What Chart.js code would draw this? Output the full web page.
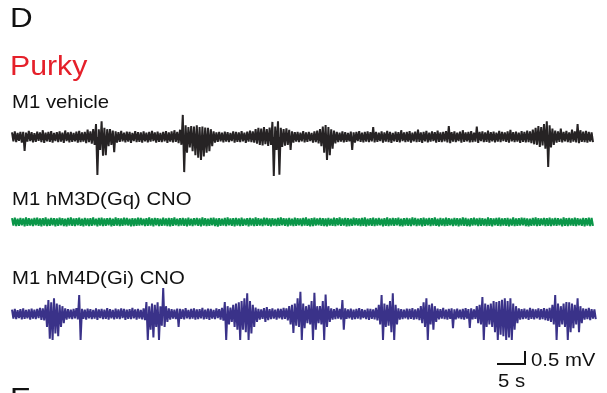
<!DOCTYPE html>
<html>
<head>
<meta charset="utf-8">
<script src="https://cdn.jsdelivr.net/npm/chart.js@4.4.1/dist/chart.umd.min.js"></script>
<style>
  html, body { margin: 0; padding: 0; background: #fff; }
  body { width: 607px; height: 393px; overflow: hidden; position: relative; }
  #trace { position: absolute; left: 0; top: 0; }
  .lbl { position: absolute; font-family: "Liberation Sans", Arial, sans-serif; line-height: 1; white-space: nowrap; color: #111; transform-origin: 0 0; transform: scaleX(1.07); }
  .big { transform: scaleX(1.12); }
</style>
</head>
<body>
<canvas id="trace" width="607" height="393"></canvas>
<div class="lbl big" style="left:10px; top:4px; font-size:28px;">D</div>
<div class="lbl big" style="left:10px; top:53px; font-size:27px; color:#e5202a;">Purky</div>
<div class="lbl" style="left:12px; top:92px; font-size:19px;">M1 vehicle</div>
<div class="lbl" style="left:12px; top:189px; font-size:19px;">M1 hM3D(Gq) CNO</div>
<div class="lbl" style="left:12px; top:268px; font-size:19px;">M1 hM4D(Gi) CNO</div>
<div class="lbl" style="left:531px; top:350px; font-size:19px;">0.5 mV</div>
<div class="lbl" style="left:498px; top:371px; font-size:19px;">5 s</div>
<div class="lbl big" style="left:10px; top:384px; font-size:28px;">E</div>
<script>
// envelope of each recording, one column per 0.5 s, values in mV (upper / lower edge)
const binSec = 0.5;

const vehicleHi = [
  .18,.22,.16,.2,.2,.17,.24,.19,.15,.21,.18,.26,.17,.2,.23,.16,
  .19,.22,.17,.25,.18,.2,.16,.21,.24,.18,.2,.28,.22,.3,.5,.3,
  .6,.35,.3,.3,.25,.22,.19,.24,.17,.21,.2,.16,.23,.19,.18,.22,
  .17,.2,.24,.18,.21,.16,.2,.23,.18,.22,.26,.2,.28,.85,.45,.38,
  .42,.4,.45,.38,.4,.36,.35,.3,.22,.18,.2,.17,.21,.19,.16,.22,
  .2,.18,.23,.17,.21,.25,.22,.3,.35,.32,.38,.3,.36,.58,.4,.6,
  .35,.3,.33,.28,.22,.19,.2,.17,.23,.18,.2,.16,.22,.25,.3,.4,
  .46,.38,.3,.25,.2,.17,.22,.19,.16,.21,.18,.2,.23,.17,.2,.22,
  .19,.38,.2,.17,.22,.18,.24,.2,.16,.21,.19,.26,.18,.2,.23,.17,
  .21,.28,.18,.2,.24,.17,.22,.19,.25,.18,.2,.23,.42,.19,.22,.17,
  .21,.26,.18,.2,.23,.17,.4,.2,.22,.18,.25,.19,.21,.17,.24,.2,
  .18,.22,.27,.19,.21,.17,.23,.2,.25,.22,.28,.35,.42,.38,.5,.6,
  .45,.32,.25,.22,.32,.2,.24,.18,.28,.22,.5,.26,.21,.24,.2,.18
];
const vehicleLo = [
  -.17,-.2,-.15,-.22,-.54,-.18,-.16,-.21,-.19,-.15,-.2,-.23,-.17,-.19,-.22,-.16,
  -.2,-.18,-.23,-.16,-.21,-.19,-.17,-.22,-.2,-.18,-.24,-.2,-.26,-.3,-1.46,-.5,
  -.72,-.7,-.35,-.3,-.58,-.22,-.19,-.17,-.21,-.18,-.23,-.16,-.2,-.19,-.22,-.17,
  -.21,-.18,-.16,-.22,-.19,-.2,-.17,-.23,-.18,-.21,-.19,-.24,-.3,-1.35,-.6,-.4,
  -.55,-.7,-.8,-.88,-.75,-.6,-.55,-.35,-.22,-.19,-.17,-.21,-.18,-.2,-.16,-.22,
  -.19,-.2,-.17,-.23,-.18,-.2,-.22,-.26,-.3,-.32,-.28,-.34,-.3,-1.5,-.5,-1.45,
  -.38,-.33,-.3,-.5,-.22,-.18,-.2,-.17,-.21,-.19,-.16,-.22,-.2,-.25,-.35,-.6,
  -.88,-.7,-.45,-.25,-.2,-.18,-.21,-.19,-.17,-.5,-.22,-.16,-.19,-.21,-.18,-.2,
  -.17,-.21,-.19,-.16,-.22,-.18,-.2,-.23,-.17,-.19,-.21,-.16,-.2,-.18,-.22,-.17,
  -.2,-.19,-.23,-.17,-.21,-.18,-.16,-.22,-.19,-.2,-.17,-.21,-.24,-.18,-.2,-.16,
  -.22,-.19,-.17,-.21,-.2,-.18,-.23,-.16,-.2,-.19,-.22,-.17,-.21,-.18,-.2,-.16,
  -.19,-.22,-.17,-.2,-.18,-.23,-.19,-.21,-.2,-.24,-.28,-.3,-.38,-.32,-.45,-1.15,
  -.4,-.3,-.22,-.19,-.21,-.17,-.2,-.22,-.18,-.21,-.24,-.19,-.2,-.22,-.18,-.2
];

const gqHi = [
  .15,.17,.13,.16,.14,.18,.15,.13,.16,.17,.14,.15,.18,.13,.16,.15,
  .14,.17,.15,.13,.16,.18,.14,.15,.17,.13,.16,.14,.15,.18,.13,.16,
  .17,.14,.15,.16,.13,.18,.15,.14,.17,.16,.13,.15,.14,.17,.16,.13,
  .15,.18,.14,.16,.15,.13,.17,.14,.16,.15,.18,.13,.15,.16,.14,.17,
  .13,.15,.16,.14,.18,.15,.13,.16,.17,.14,.15,.13,.16,.18,.14,.15,
  .16,.14,.17,.13,.15,.16,.14,.18,.15,.13,.17,.16,.14,.15,.13,.16,
  .18,.15,.14,.16,.13,.17,.15,.14,.16,.18,.13,.15,.17,.14,.16,.15,
  .14,.16,.13,.17,.15,.18,.14,.16,.15,.13,.17,.15,.14,.16,.18,.13,
  .15,.17,.14,.16,.13,.15,.18,.14,.16,.15,.17,.13,.15,.16,.14,.18,
  .16,.13,.15,.17,.14,.16,.15,.18,.13,.16,.14,.17,.15,.13,.16,.15,
  .14,.18,.16,.13,.15,.17,.14,.16,.15,.13,.18,.15,.14,.16,.17,.14,
  .15,.16,.13,.18,.14,.15,.17,.16,.14,.13,.16,.18,.15,.14,.16,.15,
  .17,.14,.16,.15,.13,.18,.15,.16,.14,.17,.15,.13,.16,.15,.17,.16
];
const gqLo = [
  -.14,-.16,-.15,-.13,-.17,-.15,-.14,-.16,-.13,-.15,-.17,-.14,-.16,-.15,-.13,-.17,
  -.15,-.13,-.16,-.17,-.14,-.15,-.16,-.13,-.15,-.17,-.14,-.16,-.15,-.13,-.17,-.14,
  -.16,-.15,-.13,-.17,-.15,-.14,-.16,-.15,-.13,-.14,-.17,-.16,-.15,-.14,-.13,-.16,
  -.15,-.14,-.17,-.13,-.16,-.15,-.14,-.16,-.17,-.15,-.13,-.16,-.14,-.15,-.17,-.14,
  -.16,-.13,-.15,-.17,-.14,-.16,-.15,-.13,-.16,-.18,-.15,-.14,-.16,-.13,-.15,-.17,
  -.14,-.16,-.15,-.13,-.17,-.14,-.16,-.15,-.14,-.16,-.13,-.15,-.17,-.14,-.16,-.15,
  -.13,-.15,-.17,-.14,-.16,-.15,-.13,-.16,-.14,-.15,-.17,-.16,-.14,-.13,-.15,-.16,
  -.17,-.14,-.15,-.16,-.13,-.15,-.14,-.17,-.16,-.15,-.13,-.14,-.16,-.15,-.17,-.14,
  -.15,-.16,-.14,-.13,-.17,-.15,-.16,-.14,-.15,-.13,-.16,-.17,-.14,-.15,-.16,-.13,
  -.16,-.14,-.17,-.15,-.13,-.16,-.14,-.15,-.17,-.14,-.16,-.15,-.13,-.16,-.14,-.17,
  -.14,-.15,-.16,-.17,-.14,-.13,-.16,-.15,-.14,-.16,-.15,-.17,-.13,-.15,-.16,-.14,
  -.15,-.17,-.14,-.16,-.15,-.14,-.13,-.16,-.17,-.15,-.14,-.16,-.15,-.13,-.16,-.15,
  -.16,-.14,-.15,-.13,-.17,-.15,-.16,-.14,-.15,-.16,-.13,-.15,-.17,-.14,-.16,-.15
];

const giHi = [
  .17,.2,.15,.19,.22,.16,.18,.21,.17,.2,.24,.22,.35,.54,.45,.6,
  .4,.35,.3,.22,.19,.17,.2,.23,.73,.2,.17,.21,.19,.16,.22,.18,
  .2,.17,.23,.19,.16,.21,.18,.22,.2,.17,.19,.24,.18,.2,.16,.22,
  .46,.3,.4,.35,.45,.3,1.0,.3,.22,.19,.17,.21,.2,.18,.23,.16,
  .2,.22,.18,.19,.24,.17,.21,.2,.16,.22,.19,.24,.46,.3,.25,.35,
  .4,.45,.5,.6,.8,.5,.35,.25,.2,.18,.23,.27,.19,.22,.17,.21,
  .2,.24,.22,.3,.35,.4,.6,.85,.4,.3,.35,.5,.82,.3,.3,.5,
  .75,.3,.22,.19,.24,.2,.54,.22,.18,.21,.17,.2,.23,.19,.16,.21,
  .2,.18,.24,.35,.73,.4,.35,.5,.8,.35,.22,.19,.17,.21,.2,.23,
  .18,.22,.3,.45,.6,.35,.4,.3,.21,.19,.24,.17,.2,.22,.18,.21,
  .17,.2,.23,.19,.22,.18,.3,.35,.65,.4,.35,.4,.5,.46,.5,.55,
  .6,.5,.6,.4,.3,.22,.19,.21,.17,.24,.2,.18,.22,.19,.23,.2,
  .24,.35,.73,.4,.3,.4,.46,.45,.4,.35,.6,.3,.22,.2,.24,.19,
  .18
];
const giLo = [
  -.18,-.2,-.16,-.21,-.19,-.17,-.22,-.18,-.2,-.16,-.23,-.25,-.5,-.95,-1.0,-.75,
  -.85,-.5,-.35,-.22,-.18,-.2,-.17,-.21,-1.0,-.19,-.22,-.17,-.2,-.18,-.23,-.16,
  -.2,-.19,-.22,-.17,-.21,-.18,-.2,-.16,-.23,-.19,-.2,-.17,-.22,-.18,-.21,-.24,
  -1.0,-.6,-.9,-.5,-1.0,-.45,-.5,-.3,-.22,-.18,-.2,-.5,-.19,-.21,-.17,-.2,
  -.18,-.22,-.2,-.17,-.21,-.19,-.23,-.18,-.2,-.16,-.22,-.26,-1.0,-.4,-.3,-.5,
  -.6,-1.0,-.6,-.7,-1.0,-.75,-.5,-.3,-.22,-.19,-.3,-.24,-.2,-.18,-.22,-.17,
  -.21,-.19,-.25,-.4,-.73,-.45,-.5,-1.0,-.55,-.35,-.4,-1.0,-.6,-.35,-.4,-1.0,
  -.5,-.3,-.22,-.2,-.18,-.21,-.6,-.19,-.17,-.22,-.2,-.18,-.21,-.16,-.2,-.23,
  -.19,-.21,-.25,-.4,-1.0,-.5,-.45,-.7,-1.0,-.4,-.22,-.2,-.17,-.21,-.19,-.22,
  -.2,-.24,-.35,-.5,-1.0,-.4,-.6,-.3,-.21,-.18,-.2,-.22,-.19,-.55,-.21,-.17,
  -.2,-.22,-.18,-.54,-.21,-.19,-.35,-.4,-1.0,-.5,-.4,-.5,-.7,-1.0,-.8,-.85,
  -1.0,-.9,-1.0,-.6,-.35,-.22,-.2,-.18,-.23,-.19,-.21,-.17,-.22,-.2,-.24,-.26,
  -.3,-.4,-1.0,-.5,-.4,-.5,-1.0,-.7,-.55,-.4,-.7,-.35,-.22,-.2,-.24,-.18,
  -.2
];

// scale bar: 5 s by 0.5 mV
const barSec = 5;
const barMv = 0.5;

// layout: canvas is 607x393, 5.6 px per second, 26 px per mV
const pxPerSec = 5.6, pxPerMv = 26, left0 = 12;
const rowBase = { vehicle: -137 / pxPerMv, gq: -222 / pxPerMv, gi: -314 / pxPerMv };
const barAt = { x: (497 - left0) / pxPerSec, y: -364 / pxPerMv };

function zigzag(hi, lo, base) {
  const pts = [];
  for (let i = 0; i < hi.length; i++) {
    pts.push({ x: i * binSec, y: base + hi[i] });
    pts.push({ x: i * binSec + binSec / 2, y: base + lo[i] });
  }
  return pts;
}

function trace(label, pts, base, color) {
  return {
    label: label,
    data: pts,
    borderColor: color,
    backgroundColor: color,
    borderWidth: 2,
    borderJoinStyle: 'bevel',
    pointRadius: 0,
    tension: 0,
    fill: { value: base }
  };
}

const ctx = document.getElementById('trace').getContext('2d');
new Chart(ctx, {
  type: 'line',
  data: {
    datasets: [
      trace('M1 vehicle', zigzag(vehicleHi, vehicleLo, rowBase.vehicle), rowBase.vehicle, '#262324'),
      trace('M1 hM3D(Gq) CNO', zigzag(gqHi, gqLo, rowBase.gq), rowBase.gq, '#0a9648'),
      trace('M1 hM4D(Gi) CNO', zigzag(giHi, giLo, rowBase.gi), rowBase.gi, '#3a3289'),
      {
        label: 'scale',
        data: [
          { x: barAt.x, y: barAt.y },
          { x: barAt.x + barSec, y: barAt.y },
          { x: barAt.x + barSec, y: barAt.y + barMv }
        ],
        borderColor: '#111',
        borderWidth: 2,
        pointRadius: 0,
        tension: 0,
        fill: false
      }
    ]
  },
  options: {
    responsive: false,
    animation: false,
    layout: { padding: 0 },
    scales: {
      x: { type: 'linear', display: false, min: -left0 / pxPerSec, max: (607 - left0) / pxPerSec },
      y: { type: 'linear', display: false, min: -393 / pxPerMv, max: 0 }
    },
    plugins: {
      legend: { display: false },
      tooltip: { enabled: false },
      title: { display: false },
      filler: { propagate: false }
    }
  }
});
</script>
</body>
</html>
